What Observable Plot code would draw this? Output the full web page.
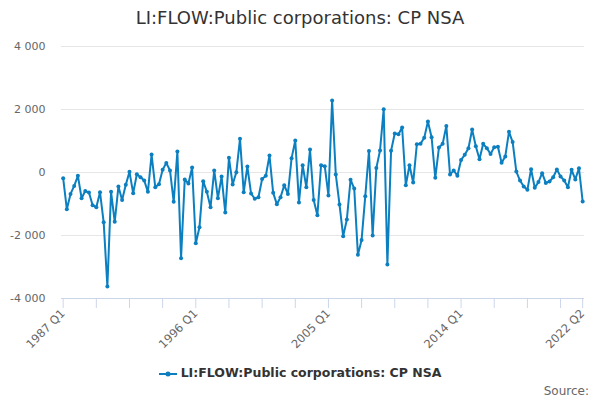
<!DOCTYPE html>
<html>
<head>
<meta charset="utf-8">
<script src="https://cdn.jsdelivr.net/npm/d3@7"></script>
<script src="https://cdn.jsdelivr.net/npm/@observablehq/plot@0.6"></script>
<style>
  html, body { margin: 0; padding: 0; background: #fff; }
  #wrap { position: relative; width: 600px; height: 400px; font-family: "DejaVu Sans", sans-serif; overflow: hidden; }
  #title { position: absolute; top: 7px; left: 0; width: 600px; text-align: center; font-size: 18px; color: #333; }
  #chart { position: absolute; top: 30px; left: 0; }
  #legend { position: absolute; top: 365px; left: 0; width: 600px; text-align: center; font-size: 12.5px; font-weight: bold; color: #333; }
  #legend svg { vertical-align: middle; margin-right: 4px; }
  #source { position: absolute; top: 384px; right: 11px; font-size: 12px; color: #666; }
</style>
</head>
<body>
<div id="wrap">
  <div id="title"></div>
  <div id="chart"></div>
  <div id="legend"></div>
  <div id="source">Source:</div>
</div>
<script>
const seriesName = "LI:FLOW:Public corporations: CP NSA";
const startYear = 1987;
const values = [
  -180,-1165,-680,-425,-105,-815,-590,-635,-1040,-1100,
  -625,-1580,-3620,-615,-1565,-445,-870,-390,20,-655,
  -55,-150,-255,-615,570,-465,-370,85,305,65,
  -930,665,-2720,-220,-350,160,-2245,-1735,-275,-615,
  -1100,65,-815,-130,-1270,465,-380,10,1070,-625,
  190,-665,-835,-785,-210,-105,540,-645,-1005,-785,
  -405,-680,455,1015,-950,230,-465,730,-870,-1355,
  230,200,-730,2285,-65,-1015,-2020,-1490,-230,-510,
  -2615,-2140,-750,680,-2000,140,700,2010,-2920,690,
  1240,1215,1430,-405,230,-320,900,910,1100,1620,
  1120,-170,795,910,1480,-65,65,-105,400,560,
  770,1365,835,420,910,770,590,805,815,310,
  510,1290,965,30,-255,-445,-550,105,-485,-305,
  -20,-330,-285,-150,95,-125,-255,-465,85,-220,
  135,-920
];
const quarters = values.map((_, i) => `${startYear + Math.floor(i / 4)} Q${(i % 4) + 1}`);
const xTickLabels = ["1987 Q1", "1996 Q1", "2005 Q1", "2014 Q1", "2022 Q2"];
const xMinorStep = 9;
const yTicks = [-4000, -2000, 0, 2000, 4000];
const yTickLabels = ["-4 000", "-2 000", "0", "2 000", "4 000"];
const color = "#0b7fc0";

const data = values.map((v, i) => ({i, q: quarters[i], v}));
const xTicks = [];
for (let i = 0; i < values.length; i += xMinorStep) xTicks.push(i);
if (xTicks[xTicks.length - 1] !== values.length - 1) xTicks.push(values.length - 1);
const xLabelFor = i => xTickLabels.includes(quarters[i]) ? quarters[i] : "";

document.getElementById("title").textContent = seriesName;
document.getElementById("legend").innerHTML =
  `<svg width="18" height="10"><line x1="0" y1="5" x2="18" y2="5" stroke="${color}" stroke-width="2"/><circle cx="9" cy="5" r="2.5" fill="${color}"/></svg>` +
  `<span>${seriesName}</span>`;

const chart = Plot.plot({
  width: 600,
  height: 330,
  marginLeft: 61,
  marginRight: 16,
  marginTop: 16,
  marginBottom: 62,
  style: {fontFamily: "DejaVu Sans, sans-serif", fontSize: "11px", background: "transparent"},
  x: {type: "linear", domain: [-0.45, values.length - 1 + 0.5]},
  y: {domain: [-4000, 4000]},
  marks: [
    Plot.ruleY(yTicks.filter(d => d !== -4000), {stroke: "#e6e6e6", strokeWidth: 1}),
    Plot.ruleY([-4000], {stroke: "#ccd6eb", strokeWidth: 1}),
    Plot.axisY({ticks: yTicks, tickFormat: d => yTickLabels[yTicks.indexOf(d)], tickSize: 0, tickPadding: 16, fill: "#666", fontSize: 11, label: null}),
    Plot.axisX({ticks: xTicks, tickFormat: xLabelFor, tickRotate: -45, tickSize: 10, tickPadding: 3, stroke: "#ccd6eb", fill: "#666", fontSize: 11.5, label: null}),
    Plot.line(data, {x: "i", y: "v", stroke: color, strokeWidth: 2}),
    Plot.dot(data, {x: "i", y: "v", r: 2, fill: color, stroke: "none"})
  ]
});
document.getElementById("chart").appendChild(chart);
</script>
</body>
</html>
